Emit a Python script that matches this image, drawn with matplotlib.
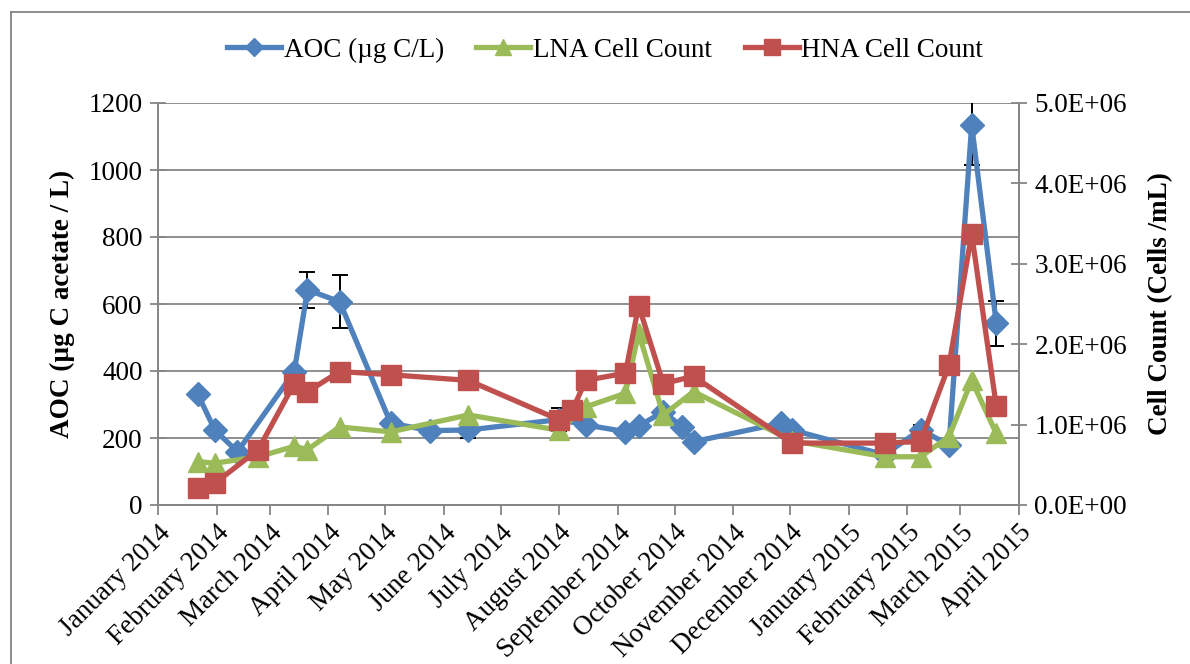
import matplotlib
matplotlib.use("Agg")
import matplotlib.pyplot as plt
import matplotlib.dates as mdates
from matplotlib.lines import Line2D
import numpy as np
import pandas as pd

# AOC samples (ug C acetate / L) with error bars
aoc_dates = ["2014-01-22", "2014-01-31", "2014-02-12", "2014-03-14", "2014-03-21",
             "2014-04-07", "2014-05-04", "2014-05-25", "2014-06-14", "2014-08-01",
             "2014-08-15", "2014-09-05", "2014-09-12", "2014-09-25", "2014-10-05",
             "2014-10-11", "2014-11-26", "2014-12-02", "2015-01-20", "2015-02-08",
             "2015-02-23", "2015-03-07", "2015-03-20"]
aoc_vals = [331, 224, 159, 398, 642, 607, 244, 222, 224, 255, 239, 219, 236, 278,
            234, 189, 244, 224, 150, 225, 179, 1134, 542]
aoc_err = [0, 0, 0, 0, 54, 79, 0, 0, 25, 35, 12, 0, 0, 0, 0, 0, 0, 0, 0, 15, 10, 120, 68]

# LNA cell counts (cells/mL)
lna_dates = ["2014-01-22", "2014-01-31", "2014-02-23", "2014-03-14", "2014-03-21",
             "2014-04-07", "2014-05-04", "2014-06-14", "2014-08-01", "2014-08-15",
             "2014-09-05", "2014-09-12", "2014-09-25", "2014-10-11", "2014-12-02",
             "2015-01-20", "2015-02-08", "2015-02-23", "2015-03-07", "2015-03-20"]
lna_vals = [5.4e5, 5.2e5, 6.0e5, 7.3e5, 6.9e5, 9.7e5, 9.1e5, 1.12e6, 9.3e5, 1.22e6,
            1.39e6, 2.14e6, 1.12e6, 1.41e6, 8.0e5, 6.0e5, 6.0e5, 8.5e5, 1.55e6, 8.9e5]

# HNA cell counts (cells/mL)
hna_dates = ["2014-01-22", "2014-01-31", "2014-02-23", "2014-03-14", "2014-03-21",
             "2014-04-07", "2014-05-04", "2014-06-14", "2014-08-01", "2014-08-08",
             "2014-08-15", "2014-09-05", "2014-09-12", "2014-09-25", "2014-10-11",
             "2014-12-02", "2015-01-20", "2015-02-08", "2015-02-23", "2015-03-07",
             "2015-03-20"]
hna_vals = [2.1e5, 2.7e5, 6.9e5, 1.51e6, 1.41e6, 1.66e6, 1.62e6, 1.55e6, 1.06e6, 1.18e6,
            1.55e6, 1.64e6, 2.48e6, 1.51e6, 1.60e6, 7.7e5, 7.7e5, 7.9e5, 1.74e6, 3.37e6,
            1.23e6]

BLUE = "#4F81BD"
GREEN = "#9BBB59"
RED = "#C0504D"
GRAY = "#868686"

plt.rcParams["font.family"] = ["Liberation Serif", "DejaVu Serif"]

fig = plt.figure(figsize=(11.9, 6.64), dpi=100)
ax = fig.add_axes([158 / 1190, 1 - 505 / 664, (1019 - 158) / 1190, (505 - 103) / 664])
ax2 = ax.twinx()

aoc_x = pd.to_datetime(aoc_dates)
lna_x = pd.to_datetime(lna_dates)
hna_x = pd.to_datetime(hna_dates)

ax.errorbar(aoc_x, aoc_vals, yerr=aoc_err, fmt="none", ecolor="black",
            elinewidth=1.4, capsize=6, capthick=1.4, zorder=2)
ax.plot(aoc_x, aoc_vals, color=BLUE, lw=3.8, marker="D", ms=12, zorder=3)
ax2.plot(lna_x, lna_vals, color=GREEN, lw=3.8, marker="^", ms=15, zorder=3)
ax2.plot(hna_x, hna_vals, color=RED, lw=3.8, marker="s", ms=14, zorder=4)

ax.set_xlim(pd.Timestamp("2014-01-01"), pd.Timestamp("2015-04-01"))
ax.set_ylim(0, 1200)
ax.set_yticks(np.arange(0, 1201, 200))
ax2.set_ylim(0, 5e6)
ax2.set_yticks(np.arange(0, 5.01e6, 1e6))
ax2.set_yticklabels(["%.1fE+06" % (v / 1e6) if v > 0 else "0.0E+00"
                     for v in np.arange(0, 5.01e6, 1e6)])

ax.xaxis.set_major_locator(mdates.MonthLocator())
ax.xaxis.set_major_formatter(mdates.DateFormatter("%B %Y"))
for lab in ax.get_xticklabels():
    lab.set_rotation(45)
    lab.set_ha("right")
    lab.set_rotation_mode("anchor")

ax.grid(axis="y", color=GRAY, lw=1.3)
ax.set_axisbelow(True)
for a in (ax, ax2):
    a.spines["top"].set_visible(False)
    for s in ("left", "right", "bottom"):
        a.spines[s].set_color(GRAY)
        a.spines[s].set_linewidth(1.3)
ax.tick_params(axis="y", direction="inout", length=12, width=1.3, color=GRAY,
               labelsize=19.5, pad=5)
ax.tick_params(axis="x", direction="out", length=7, width=1.3, color=GRAY,
               labelsize=19.5, pad=4)
ax2.tick_params(axis="y", direction="inout", length=12, width=1.3, color=GRAY,
                labelsize=19.5, pad=5)

ax.set_ylabel("AOC (µg C acetate / L)", fontsize=19.5, fontweight="bold", labelpad=10)
ax2.set_ylabel("Cell Count (Cells /mL)", fontsize=19.5, fontweight="bold", labelpad=15)

handles = [
    Line2D([], [], color=BLUE, lw=3.8, marker="D", ms=9),
    Line2D([], [], color=GREEN, lw=3.8, marker="^", ms=11),
    Line2D([], [], color=RED, lw=3.8, marker="s", ms=11),
]
labels = ["AOC (µg C/L)", "LNA Cell Count", "HNA Cell Count"]
fig.legend(handles, labels, loc="center", bbox_to_anchor=(605 / 1190, 1 - 50 / 664),
           ncol=3, frameon=False, fontsize=19.5, handlelength=2.0, handletextpad=0.1,
           columnspacing=1.2)

# chart area border (left and top edges visible)
fig.add_artist(Line2D([11 / 1190, 11 / 1190], [0, 1 - 12 / 664], color=GRAY, lw=1.3,
                      transform=fig.transFigure))
fig.add_artist(Line2D([11 / 1190, 1], [1 - 12 / 664, 1 - 12 / 664], color=GRAY, lw=1.3,
                      transform=fig.transFigure))

fig.savefig("out.png", dpi=100)
